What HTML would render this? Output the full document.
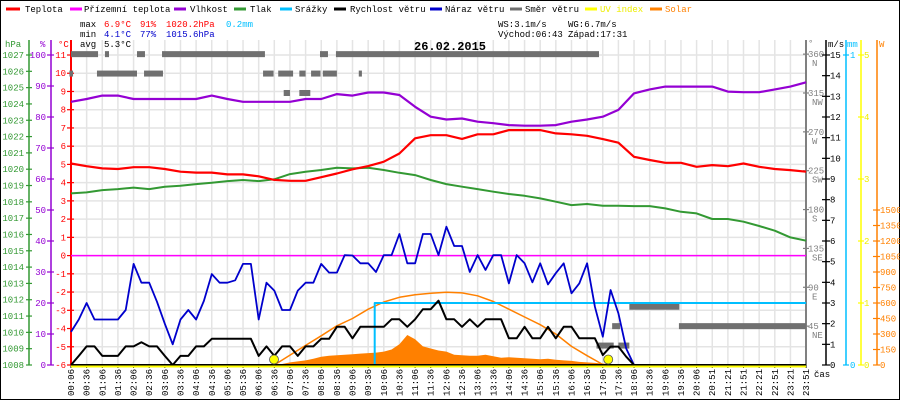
<!DOCTYPE html>
<html><head><meta charset="utf-8"><style>
html,body{margin:0;padding:0;background:#fff}
svg{display:block}
text{font-family:"Liberation Mono",monospace;font-size:9px}
</style></head><body>
<svg id="chart" width="900" height="400" viewBox="0 0 900 400" xmlns="http://www.w3.org/2000/svg">
<rect x="0.5" y="0.5" width="899" height="399" fill="#fff" stroke="#000" stroke-width="1"/>
<g id="grid"></g>
<g id="axes"></g>
<g id="series"></g>
<g>
 <line x1="6" y1="9" x2="20" y2="9" stroke="#f00" stroke-width="3"/><text x="25" y="12">Teplota</text>
 <line x1="70" y1="9" x2="82" y2="9" stroke="#f0f" stroke-width="3"/><text x="84" y="12">Přízemní teplota</text>
 <line x1="174" y1="9" x2="186" y2="9" stroke="#9400d3" stroke-width="3"/><text x="190" y="12">Vlhkost</text>
 <line x1="234" y1="9" x2="246" y2="9" stroke="#339933" stroke-width="3"/><text x="250" y="12">Tlak</text>
 <line x1="280" y1="9" x2="292" y2="9" stroke="#00bfff" stroke-width="3"/><text x="295" y="12">Srážky</text>
 <line x1="334" y1="9" x2="346" y2="9" stroke="#000" stroke-width="3"/><text x="350" y="12">Rychlost větru</text>
 <line x1="430" y1="9" x2="442" y2="9" stroke="#0000cc" stroke-width="3"/><text x="445" y="12">Náraz větru</text>
 <line x1="510" y1="9" x2="522" y2="9" stroke="#707070" stroke-width="3"/><text x="525" y="12">Směr větru</text>
 <line x1="585" y1="9" x2="597" y2="9" stroke="#ff0" stroke-width="3"/><text x="600" y="12" fill="#ee0">UV index</text>
 <line x1="650" y1="9" x2="662" y2="9" stroke="#ff8000" stroke-width="3"/><text x="665" y="12" fill="#ff8000">Solar</text>
</g>
<g>
 <text x="80" y="27">max</text>
 <text x="104" y="27" fill="#f00">6.9°C</text>
 <text x="140" y="27" fill="#f00">91%</text>
 <text x="166" y="27" fill="#f00">1020.2hPa</text>
 <text x="226" y="27" fill="#00bfff">0.2mm</text>
 <text x="80" y="37">min</text>
 <text x="104" y="37" fill="#0000cc">4.1°C</text>
 <text x="140" y="37" fill="#0000cc">77%</text>
 <text x="166" y="37" fill="#0000cc">1015.6hPa</text>
 <text x="80" y="47">avg</text>
 <text x="104" y="47">5.3°C</text>
 <text x="498" y="27">WS:3.1m/s</text>
 <text x="568" y="27">WG:6.7m/s</text>
 <text x="498" y="37">Východ:06:43</text>
 <text x="568" y="37">Západ:17:31</text>
 <text x="414" y="50" style="font-size:12px;font-weight:bold">26.02.2015</text>
</g>
</svg>
<script>
// ---- data ----
const timeLabels = ["00:06","00:36","01:06","01:36","02:06","02:36","03:06","03:36","04:06","04:36","05:06","05:36","06:06","06:36","07:06","07:36","08:06","08:36","09:06","09:36","10:06","10:36","11:06","11:36","12:06","12:36","13:06","13:36","14:06","14:36","15:06","15:36","16:06","16:36","17:06","17:36","18:06","18:36","19:06","19:36","20:06","20:51","21:21","21:51","22:21","22:51","23:21","23:51"];
const temperature = [5.05,4.9,4.78,4.75,4.85,4.85,4.75,4.6,4.55,4.55,4.45,4.45,4.35,4.15,4.1,4.1,4.3,4.5,4.73,4.91,5.15,5.6,6.43,6.6,6.6,6.4,6.65,6.65,6.88,6.88,6.88,6.7,6.65,6.57,6.39,6.19,5.42,5.24,5.09,5.09,4.87,4.96,4.9,5.05,4.87,4.75,4.69,4.6];
const humidity = [84.9,85.8,86.9,86.9,85.8,85.8,85.8,85.8,85.8,86.9,85.8,84.9,84.9,84.9,84.9,85.8,85.8,87.4,86.9,87.9,87.9,87.1,83.3,80.1,79.2,79.5,78.5,78.0,77.4,77.2,77.2,77.4,78.5,79.2,80.1,82.3,87.6,88.9,89.8,89.8,89.8,89.8,88.2,88.0,88.0,88.9,89.8,91.2];
const pressure = [1018.52,1018.58,1018.72,1018.78,1018.87,1018.78,1018.93,1018.99,1019.09,1019.17,1019.27,1019.34,1019.27,1019.38,1019.70,1019.84,1019.95,1020.09,1020.05,1020.09,1019.95,1019.78,1019.64,1019.34,1019.09,1018.93,1018.78,1018.62,1018.48,1018.37,1018.21,1018.01,1017.80,1017.87,1017.76,1017.76,1017.74,1017.74,1017.6,1017.39,1017.29,1016.95,1016.95,1016.78,1016.52,1016.23,1015.82,1015.62];
const groundTemp = [0,0];
const windSpeed = [0,0.44,0.9,0.9,0.44,0.44,0.44,0.9,0.9,1.1,0.9,0.9,0.44,0,0.44,0.44,0.9,0.9,1.27,1.27,1.27,1.27,1.27,1.27,0.44,0.9,0.44,0.9,0.9,0.44,0.9,0.9,1.27,1.27,1.85,1.85,1.29,1.85,1.85,1.85,1.85,2.21,2.21,1.85,2.21,2.7,2.7,3.11,2.21,2.21,1.85,2.21,1.85,2.21,2.21,2.21,1.29,1.29,1.85,1.29,1.29,1.85,1.29,1.85,1.85,1.29,1.29,1.29,0.48,0.89,0.89,0.4,0];
const windGust = [1.6,2.2,3.0,2.2,2.2,2.2,2.2,2.66,4.89,3.98,3.98,3.06,2.0,1.0,2.2,2.66,2.2,3.1,4.4,3.98,3.98,4.1,4.89,4.89,2.2,3.98,3.6,2.66,2.66,3.6,3.98,3.98,4.89,4.47,4.47,5.32,5.3,4.92,4.92,4.5,5.32,5.32,6.34,4.92,4.92,6.34,6.34,5.32,6.69,5.76,5.76,4.5,5.32,4.6,5.32,5.32,3.95,5.32,4.92,4.0,4.92,3.9,4.44,4.92,3.47,3.95,4.92,2.82,1.37,3.63,2.5,0.8,0];
const solarTheoStart = 13;
const solarTheo = [0,96,190,283,379,450,540,610,655,680,695,704,698,670,615,540,465,390,300,180,90,5];
const solarStartHalf = 26;
const solarMeasured = [0,10,25,35,45,60,80,90,95,100,105,110,115,120,130,150,200,290,250,180,160,140,130,100,95,90,90,100,85,70,75,70,65,60,55,60,50,45,40,30,25,20,15,8,0];
const rainPos = [0,19.42,19.42,47];
const rainVals = [0,0,0.2,0.2];
const dirStart = [0,2.17,4.22,5.82,15.92,16.94,-0.1,1.66,4.67,12.28,13.25,14.6,15.35,16.1,18.4,13.6,14.6,33.6,35.0,34.6,38.87,35.7];
const dirEnd   = [1.73,2.43,4.73,12.4,16.43,33.76,0.13,4.22,5.88,12.95,14.2,15.0,15.95,17.0,18.6,14.0,15.3,34.7,35.7,35.1,47,38.9];
const dirDeg   = [360,360,360,360,360,360,337.5,337.5,337.5,337.5,337.5,337.5,337.5,337.5,337.5,315,315,22.5,22.5,45,45,67.5];
const uvIndex = [0,0];
const sunMarks = [12.98,34.35];
const tempTicks = [-6,-5,-4,-3,-2,-1,0,1,2,3,4,5,6,7,8,9,10,11];
const dirTicks = [45,90,135,180,225,270,315,360];
const dirNames = ["NE","E","SE","S","SW","W","NW","N"];

// ---- scales ----
const NS="http://www.w3.org/2000/svg";
const X0=71, DX=15.64, YB=365, YT=40;
const xs=u=>X0+u*DX;
const yT=t=>YB-(t+6)*18.235;
const yH=h=>YB-h*3.1;
const yP=p=>YB-(p-1008)*16.316;
const yV=v=>YB-v*20.667;
const yD=d=>YB-d*0.8635;
const yR=m=>YB-m*310;
const yS=w=>YB-w*0.10333;
const yU=u=>YB-u*62;
function mk(tag,attrs,parent,txt){const e=document.createElementNS(NS,tag);for(const k in attrs)e.setAttribute(k,attrs[k]);if(txt!==undefined)e.textContent=txt;parent.appendChild(e);return e;}
const G=document.getElementById('grid'),A=document.getElementById('axes'),S=document.getElementById('series');

// grid
for(let i=0;i<timeLabels.length;i++){
  const l=mk('line',{x1:xs(i),y1:YT,x2:xs(i),y2:YB,stroke:'#e4e4e4','stroke-width':1.5},G);
  
  
  const t=mk('text',{transform:`translate(${xs(i)+3},369) rotate(-90)`,'text-anchor':'end'},A,timeLabels[i]);
  
  
  const tk=mk('line',{x1:xs(i),y1:365,x2:xs(i),y2:368,stroke:'#000'},A);
  
  
}
for(const t of tempTicks){
  const l=mk('line',{x1:X0,y1:yT(t),x2:806,y2:yT(t),stroke:'#e4e4e4','stroke-width':1.5},G);
  
  
}
const cas=mk('text',{x:814,y:377},A,'čas');



// axis lines
function axisLine(x,color,w,name){const l=mk('line',{x1:x,y1:YT,x2:x,y2:YB,stroke:color,'stroke-width':w},A);}
axisLine(29,'#339933',1.5,'hpa-axis');
axisLine(51,'#9400d3',1.5,'humidity-axis');
axisLine(71,'#f00',2,'temp-axis');
axisLine(806,'#808080',2,'direction-axis');
axisLine(826,'#000',1.5,'wind-axis');
axisLine(846,'#00bfff',1.5,'rain-axis');
axisLine(861,'#ff0',1.5,'uv-axis');
axisLine(877,'#ff8000',1.5,'solar-axis');
function axTitle(x,y,txt,color,name){const t=mk('text',{x:x,y:y,fill:color},A,txt);}
axTitle(5,47,'hPa','#339933','hpa-axis-title');
axTitle(40,47,'%','#9400d3','humidity-axis-title');
axTitle(58,47,'°C','#f00','temp-axis-title');
axTitle(808,46,'°','#808080','direction-axis-title');
axTitle(828,47,'m/s','#000','wind-axis-title');
axTitle(847,47,'mm','#00bfff','rain-axis-title');
axTitle(879,47,'W','#ff8000','solar-axis-title');

function tick(x1,x2,y,color,name){const l=mk('line',{x1:x1,y1:y,x2:x2,y2:y,stroke:color,'stroke-width':1.2},A);}
function lab(x,y,txt,color,anchor,name){const t=mk('text',{x:x,y:y+3,fill:color,'text-anchor':anchor},A,txt);}
for(let p=1008;p<=1027;p++){tick(26,32,yP(p),'#339933','hpa-tick');lab(24,yP(p),String(p),'#339933','end','hpa-tick-label');}
for(let h=0;h<=100;h+=10){tick(47,54,yH(h),'#9400d3','humidity-tick');lab(46,yH(h),String(h),'#9400d3','end','humidity-tick-label');}
for(const t of tempTicks){tick(67,74,yT(t),'#f00','temp-tick');lab(66,yT(t),String(t),'#f00','end','temp-tick-label');}
dirTicks.forEach((d,i)=>{tick(803,809,yD(d),'#808080','direction-tick');lab(808,yD(d),String(d),'#808080','start','direction-tick-label');lab(812,yD(d)+9,dirNames[i],'#808080','start','direction-name-label');});
for(let v=0;v<=15;v++){tick(822,830,yV(v),'#000','wind-tick');lab(830,yV(v),String(v),'#000','start','wind-tick-label');}
for(let m=0;m<=1;m++){tick(843,849,yR(m),'#00bfff','rain-tick');lab(850,yR(m),String(m),'#00bfff','start','rain-tick-label');}
for(let u=0;u<=5;u++){tick(858,864,yU(u),'#ff0','uv-tick');lab(864,yU(u),String(u),'#ee0','start','uv-tick-label');}
for(let w=0;w<=1500;w+=150){tick(873,880,yS(w),'#ff8000','solar-tick');lab(880,yS(w),String(w),'#ff8000','start','solar-tick-label');}

// series helpers
function poly(pts,color,w,name){const p=mk('polyline',{points:pts.map(q=>q[0].toFixed(1)+','+q[1].toFixed(1)).join(' '),fill:'none',stroke:color,'stroke-width':w,'stroke-linejoin':'round'},S);return p;}

// wind direction bars
dirDeg.forEach((d,i)=>{
  const r=mk('rect',{x:xs(dirStart[i]),y:yD(d)-3,width:Math.max(2,xs(dirEnd[i])-xs(dirStart[i])),height:6,fill:'#707070'},S);
  
  
});

// measured solar area
{
  const pts=solarMeasured.map((w,k)=>[xs((solarStartHalf+k)/2),yS(w)]);
  const d='M'+pts[0][0]+','+YB+' '+pts.map(q=>'L'+q[0].toFixed(1)+','+q[1].toFixed(1)).join(' ')+' L'+pts[pts.length-1][0]+','+YB+' Z';
  const a=mk('path',{d:d,fill:'#ff8000',stroke:'none'},S);
  
  
}
poly(solarTheo.map((w,i)=>[xs(solarTheoStart+i),yS(w)]),'#ff8000',1.5,'solar-theoretical-line');
poly(rainPos.map((u,i)=>[xs(u),yR(rainVals[i])]),'#00bfff',2,'rain-line');
poly(groundTemp.map((g,i)=>[xs(i*47),yT(g)]),'#f0f',1.5,'ground-temp-line');
poly(pressure.map((p,i)=>[xs(i),yP(p)]),'#339933',2,'pressure-line');
poly(humidity.map((h,i)=>[xs(i),yH(h)]),'#9400d3',2.2,'humidity-line');
poly(temperature.map((t,i)=>[xs(i),yT(t)]),'#f00',2.2,'temperature-line');
poly(windGust.map((v,k)=>[xs(k/2),yV(v)]),'#0000cc',1.8,'wind-gust-line');
poly(windSpeed.map((v,k)=>[xs(k/2),yV(v)]),'#000',2,'wind-speed-line');
poly([[X0,YB],[806,YB]],'#000',2,'baseline');
poly(uvIndex.map((u,i)=>[xs(i*47),yU(u)+1.5]),'#ff0',2,'uv-line');
sunMarks.forEach(u=>{
  const c=mk('circle',{cx:xs(u),cy:359.5,r:4.5,fill:'#ff0',stroke:'#555','stroke-width':0.8},S);
  
  
});
</script>
</body></html>
